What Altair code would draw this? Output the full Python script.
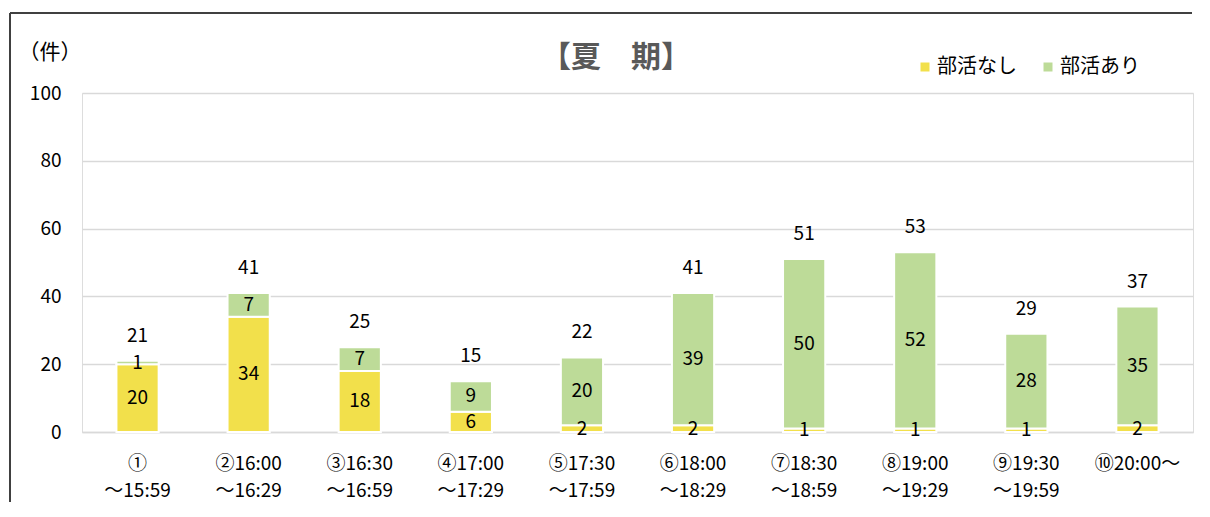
import altair as alt
import pandas as pd

categories = ["①\n～15:59", "②16:00\n～16:29", "③16:30\n～16:59", "④17:00\n～17:29",
              "⑤17:30\n～17:59", "⑥18:00\n～18:29", "⑦18:30\n～18:59", "⑧19:00\n～19:29",
              "⑨19:30\n～19:59", "⑩20:00～"]
nashi = [20, 34, 18, 6, 2, 2, 1, 1, 1, 2]
ari = [1, 7, 7, 9, 20, 39, 50, 52, 28, 35]
totals = [21, 41, 25, 15, 22, 41, 51, 53, 29, 37]
series = ["部活なし", "部活あり"]
colors = ["#F2E04B", "#BDDB98"]

FONT = "Noto Sans CJK JP"

rows = []
for c, n, a in zip(categories, nashi, ari):
    rows.append({"cat": c, "series": series[0], "value": n, "ord": 0})
    rows.append({"cat": c, "series": series[1], "value": a, "ord": 1})
df = pd.DataFrame(rows)
tot_df = pd.DataFrame({"cat": categories, "total": totals})

xenc = alt.X("cat:N", sort=categories, title=None,
             scale=alt.Scale(paddingInner=0.62, paddingOuter=0.31),
             axis=alt.Axis(labelExpr="split(datum.value, '\\n')", labelAngle=0,
                           labelFontSize=19, labelFont=FONT, labelColor="#000000",
                           labelPadding=22, labelLineHeight=27, ticks=False,
                           domain=True, domainColor="#d9d9d9", domainWidth=1.5,
                           labelBaseline="top"))
yscale = alt.Scale(domain=[0, 100])

base = alt.Chart(df).transform_stack(
    stack="value", groupby=["cat"], as_=["y0", "y1"],
    sort=[alt.SortField("ord", order="ascending")]
).transform_calculate(mid="(datum.y0 + datum.y1) / 2")

bars = base.mark_bar(stroke="white", strokeWidth=2).encode(
    x=xenc,
    y=alt.Y("y0:Q", scale=yscale, title=None,
            axis=alt.Axis(values=[0, 20, 40, 60, 80, 100], labelFontSize=19, labelFont=FONT,
                          labelColor="#000000", labelPadding=21, ticks=False, domain=False,
                          grid=True, gridColor="#d9d9d9", gridWidth=1.5)),
    y2="y1:Q",
    color=alt.Color("series:N", scale=alt.Scale(domain=series, range=colors), legend=None),
)

seg_text = base.mark_text(font=FONT, fontSize=19, color="#000000", baseline="middle").encode(
    x=alt.X("cat:N", sort=categories),
    y=alt.Y("mid:Q", scale=yscale),
    text="value:Q",
)

tot_text = alt.Chart(tot_df).mark_text(font=FONT, fontSize=19, color="#000000",
                                       baseline="middle", dy=-25).encode(
    x=alt.X("cat:N", sort=categories),
    y=alt.Y("total:Q", scale=yscale),
    text="total:Q",
)

title = alt.Chart(pd.DataFrame({"t": ["【夏　期】"]})).mark_text(
    font=FONT, fontSize=30, fontWeight="bold", color="#595959", baseline="middle", align="center"
).encode(x=alt.value(534), y=alt.value(-35), text="t:N")

unit = alt.Chart(pd.DataFrame({"t": ["（件）"]})).mark_text(
    font=FONT, fontSize=21, color="#000000", baseline="middle", align="center"
).encode(x=alt.value(-32), y=alt.value(-40), text="t:N")

leg_sq1 = alt.Chart(pd.DataFrame({"s": [series[0]]})).mark_square(size=81, opacity=1).encode(
    x=alt.value(843), y=alt.value(-26),
    color=alt.Color("s:N", scale=alt.Scale(domain=series, range=colors), legend=None))
leg_t1 = alt.Chart(pd.DataFrame({"s": [series[0]]})).mark_text(
    font=FONT, fontSize=20, color="#000000", align="left", baseline="middle"
).encode(x=alt.value(855), y=alt.value(-26), text="s:N")
leg_sq2 = alt.Chart(pd.DataFrame({"s": [series[1]]})).mark_square(size=81, opacity=1).encode(
    x=alt.value(966), y=alt.value(-26),
    color=alt.Color("s:N", scale=alt.Scale(domain=series, range=colors), legend=None))
leg_t2 = alt.Chart(pd.DataFrame({"s": [series[1]]})).mark_text(
    font=FONT, fontSize=20, color="#000000", align="left", baseline="middle"
).encode(x=alt.value(978), y=alt.value(-26), text="s:N")

frame_left = alt.Chart(pd.DataFrame({"a": [0]})).mark_rule(color="#404040", strokeWidth=2).encode(
    x=alt.value(-72), y=alt.value(-80), y2=alt.value(420))
frame_top = alt.Chart(pd.DataFrame({"a": [0]})).mark_rule(color="#404040", strokeWidth=2).encode(
    x=alt.value(-72), x2=alt.value(1110), y=alt.value(-80))

chart = alt.layer(
    bars, seg_text, tot_text, title, unit, leg_sq1, leg_t1, leg_sq2, leg_t2, frame_left, frame_top
).properties(
    width=1111, height=339,
    autosize=alt.AutoSizeParams(type="none"),
    padding={"left": 74, "top": 85, "right": 5, "bottom": 70},
).configure_view(strokeWidth=0).configure(background="white")

chart.save("out.html", embed_options={"renderer": "svg", "actions": False})
